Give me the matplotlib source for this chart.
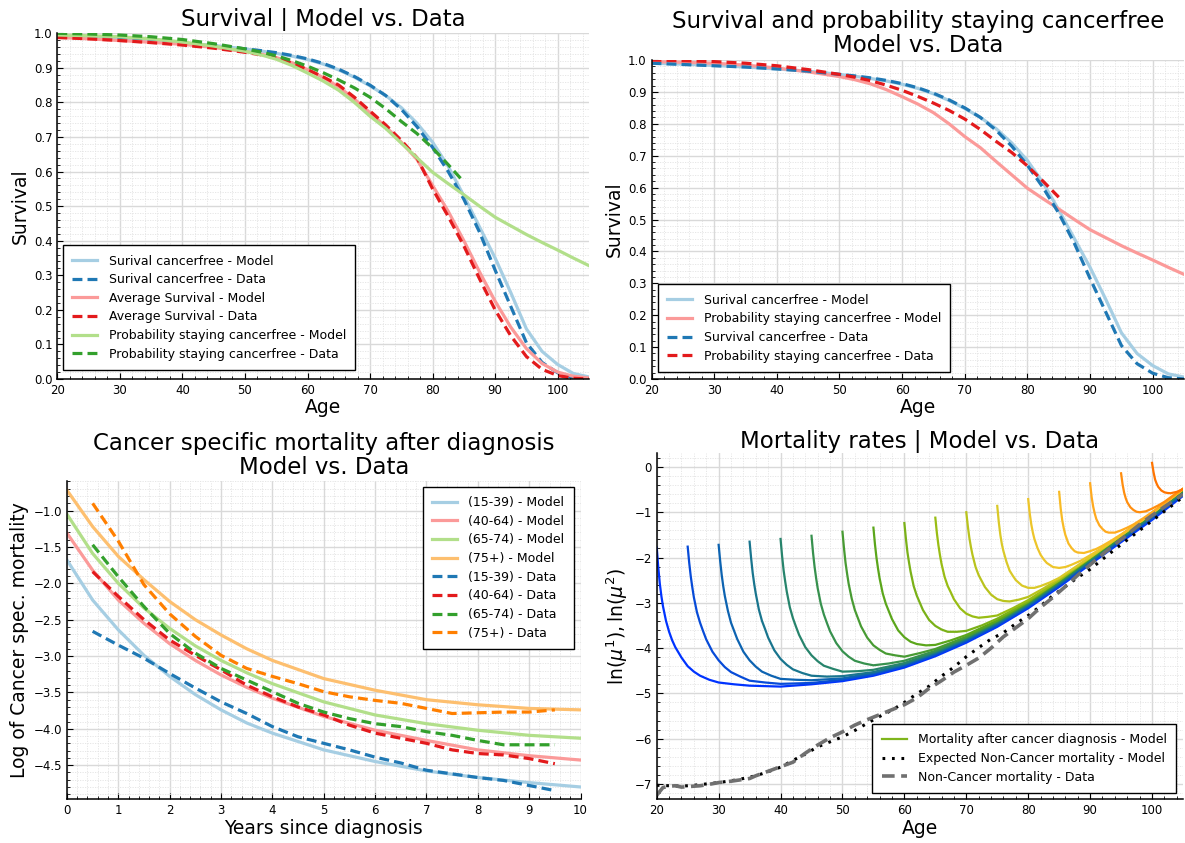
import matplotlib
matplotlib.use("Agg")
import matplotlib.pyplot as plt
import numpy as np
from matplotlib.ticker import AutoMinorLocator, MultipleLocator
from matplotlib.colors import LinearSegmentedColormap
from matplotlib.lines import Line2D

# ---------------- data ----------------
# survival panels (age grid)
surv_age = [20, 25, 30, 35, 40, 45, 50, 52.5, 55, 57.5, 60, 62.5, 65, 67.5, 70, 72.5, 75, 77.5,
            80, 82.5, 85, 87.5, 90, 92.5, 95, 97.5, 100, 102.5, 105]
cf_model = [0.990, 0.987, 0.983, 0.978, 0.972, 0.965, 0.955, 0.949, 0.942, 0.934, 0.924, 0.911,
            0.894, 0.873, 0.848, 0.820, 0.785, 0.740, 0.685, 0.615, 0.530, 0.440, 0.350, 0.250,
            0.145, 0.080, 0.042, 0.016, 0.006]
cf_data = [0.990, 0.986, 0.982, 0.978, 0.972, 0.965, 0.955, 0.950, 0.944, 0.936, 0.926, 0.913,
           0.896, 0.875, 0.850, 0.820, 0.780, 0.730, 0.670, 0.600, 0.520, 0.425, 0.315, 0.210,
           0.105, 0.048, 0.018, 0.004, 0.0]
avg_model = [0.988, 0.984, 0.979, 0.974, 0.968, 0.959, 0.947, 0.940, 0.930, 0.915, 0.895, 0.872,
             0.845, 0.810, 0.770, 0.730, 0.685, 0.635, 0.560, 0.485, 0.400, 0.310, 0.225, 0.150,
             0.088, 0.045, 0.020, 0.008, 0.003]
avg_data = [0.988, 0.984, 0.979, 0.973, 0.966, 0.957, 0.945, 0.938, 0.928, 0.914, 0.895, 0.874,
            0.850, 0.815, 0.775, 0.735, 0.690, 0.640, 0.550, 0.470, 0.385, 0.290, 0.200, 0.125,
            0.065, 0.028, 0.010, 0.002, 0.0]
stay_model = [0.995, 0.993, 0.990, 0.984, 0.975, 0.963, 0.948, 0.938, 0.925, 0.907, 0.885, 0.862,
              0.835, 0.800, 0.760, 0.725, 0.682, 0.640, 0.598, 0.565, 0.533, 0.500, 0.468, 0.443,
              0.418, 0.395, 0.373, 0.350, 0.328]
stay_data = [1.0, 0.998, 0.995, 0.990, 0.982, 0.970, 0.955, 0.946, 0.935, 0.921, 0.905, 0.886,
             0.865, 0.842, 0.815, 0.782, 0.745, 0.710, 0.668, 0.620, 0.570]

# cancer specific mortality after diagnosis
t_model = [0, 0.5, 1, 1.5, 2, 2.5, 3, 3.5, 4, 5, 6, 7, 8, 9, 10]
csm_model = {
    "(15-39)": [-1.68, -2.23, -2.64, -2.99, -3.28, -3.53, -3.74, -3.92, -4.06, -4.29, -4.45, -4.58, -4.67, -4.74, -4.80],
    "(40-64)": [-1.31, -1.82, -2.23, -2.55, -2.83, -3.06, -3.26, -3.43, -3.58, -3.83, -4.02, -4.16, -4.29, -4.37, -4.43],
    "(65-74)": [-1.05, -1.59, -2.00, -2.34, -2.62, -2.86, -3.06, -3.23, -3.38, -3.63, -3.81, -3.93, -4.02, -4.09, -4.13],
    "(75+)": [-0.72, -1.22, -1.63, -1.95, -2.25, -2.50, -2.71, -2.90, -3.06, -3.31, -3.47, -3.60, -3.67, -3.72, -3.74],
}
t_data = [0.5, 1, 1.5, 2, 2.5, 3, 3.5, 4, 4.5, 5, 5.5, 6, 6.5, 7, 7.5, 8, 8.5, 9, 9.5]
csm_data = {
    "(15-39)": [-2.66, -2.85, -3.03, -3.24, -3.44, -3.63, -3.79, -3.97, -4.11, -4.20, -4.29, -4.39, -4.47, -4.57, -4.62, -4.67, -4.71, -4.78, -4.85],
    "(40-64)": [-1.84, -2.18, -2.50, -2.78, -2.99, -3.19, -3.40, -3.56, -3.70, -3.81, -3.95, -4.06, -4.13, -4.20, -4.29, -4.34, -4.36, -4.41, -4.48],
    "(65-74)": [-1.47, -1.91, -2.32, -2.69, -2.96, -3.17, -3.33, -3.49, -3.65, -3.77, -3.86, -3.93, -3.97, -4.04, -4.09, -4.16, -4.22, -4.22, -4.22],
    "(75+)": [-0.90, -1.42, -2.02, -2.42, -2.73, -2.99, -3.17, -3.28, -3.38, -3.49, -3.56, -3.61, -3.65, -3.72, -3.79, -3.78, -3.77, -3.77, -3.74],
}

# mortality after diagnosis, one curve per age at diagnosis
dx_ages = [20, 25, 30, 35, 40, 45, 50, 55, 60, 65, 70, 75, 80, 85, 90, 95, 100]
years_after = [0, 0.25, 0.5, 0.75, 1, 1.5, 2, 2.5, 3, 4, 5, 6, 7, 8.5, 10, 12.5, 15, 20, 25,
               30, 35, 40, 45, 50, 55, 60, 65, 70, 75, 80, 85]
mort_dx = [
    [-1.78, -2.22, -2.58, -2.85, -3.07, -3.40, -3.64, -3.83, -3.98, -4.21, -4.40, -4.52, -4.61, -4.70, -4.76, -4.80, -4.83, -4.85, -4.80, -4.73, -4.61, -4.43, -4.18, -3.88, -3.53, -3.12, -2.65, -2.15, -1.66, -1.17, -0.64],
    [-1.76, -2.12, -2.42, -2.66, -2.88, -3.21, -3.44, -3.63, -3.81, -4.08, -4.27, -4.42, -4.53, -4.63, -4.72, -4.76, -4.79, -4.77, -4.70, -4.58, -4.40, -4.15, -3.85, -3.50, -3.09, -2.62, -2.12, -1.63, -1.14, -0.61],
    [-1.72, -2.08, -2.39, -2.64, -2.85, -3.18, -3.44, -3.62, -3.80, -4.08, -4.27, -4.41, -4.52, -4.61, -4.68, -4.70, -4.71, -4.67, -4.55, -4.37, -4.12, -3.82, -3.47, -3.06, -2.59, -2.09, -1.60, -1.11, -0.58],
    [-1.65, -2.02, -2.34, -2.59, -2.80, -3.15, -3.40, -3.58, -3.77, -4.05, -4.24, -4.37, -4.47, -4.55, -4.61, -4.63, -4.62, -4.53, -4.35, -4.10, -3.80, -3.45, -3.04, -2.57, -2.07, -1.58, -1.09, -0.56],
    [-1.59, -1.97, -2.29, -2.53, -2.75, -3.10, -3.34, -3.53, -3.71, -3.98, -4.16, -4.29, -4.39, -4.46, -4.52, -4.51, -4.48, -4.33, -4.08, -3.78, -3.43, -3.02, -2.55, -2.05, -1.56, -1.07, -0.54],
    [-1.52, -1.90, -2.21, -2.46, -2.68, -3.02, -3.26, -3.45, -3.63, -3.89, -4.07, -4.19, -4.28, -4.34, -4.38, -4.34, -4.28, -4.06, -3.76, -3.41, -3.00, -2.53, -2.03, -1.54, -1.05, -0.52],
    [-1.43, -1.80, -2.12, -2.36, -2.58, -2.91, -3.16, -3.34, -3.52, -3.77, -3.94, -4.04, -4.12, -4.16, -4.19, -4.11, -4.02, -3.75, -3.40, -2.99, -2.52, -2.02, -1.53, -1.04, -0.51],
    [-1.34, -1.71, -2.01, -2.25, -2.46, -2.79, -3.02, -3.19, -3.36, -3.61, -3.76, -3.86, -3.91, -3.94, -3.93, -3.83, -3.71, -3.39, -2.98, -2.51, -2.01, -1.52, -1.03, -0.50],
    [-1.24, -1.59, -1.89, -2.11, -2.31, -2.63, -2.84, -3.00, -3.16, -3.38, -3.51, -3.59, -3.64, -3.64, -3.62, -3.50, -3.35, -2.97, -2.50, -2.00, -1.51, -1.02, -0.49],
    [-1.12, -1.46, -1.73, -1.95, -2.14, -2.43, -2.63, -2.77, -2.92, -3.12, -3.24, -3.30, -3.33, -3.31, -3.28, -3.12, -2.94, -2.50, -2.00, -1.51, -1.02, -0.49],
    [-1.00, -1.31, -1.57, -1.77, -1.94, -2.21, -2.39, -2.52, -2.65, -2.82, -2.92, -2.96, -2.97, -2.93, -2.87, -2.68, -2.47, -2.00, -1.51, -1.02, -0.49],
    [-0.86, -1.22, -1.50, -1.71, -1.86, -2.10, -2.29, -2.40, -2.50, -2.62, -2.67, -2.67, -2.63, -2.55, -2.45, -2.22, -1.99, -1.51, -1.02, -0.49],
    [-0.71, -1.03, -1.27, -1.45, -1.59, -1.79, -1.94, -2.04, -2.12, -2.21, -2.23, -2.21, -2.16, -2.07, -1.95, -1.74, -1.50, -1.02, -0.49],
    [-0.55, -0.92, -1.18, -1.36, -1.50, -1.69, -1.79, -1.86, -1.89, -1.90, -1.86, -1.81, -1.74, -1.62, -1.49, -1.26, -1.02, -0.49],
    [-0.36, -0.67, -0.88, -1.03, -1.15, -1.29, -1.37, -1.43, -1.45, -1.45, -1.40, -1.34, -1.27, -1.14, -1.00, -0.75, -0.49],
    [-0.14, -0.39, -0.57, -0.69, -0.78, -0.89, -0.95, -0.99, -1.00, -0.98, -0.92, -0.85, -0.77, -0.62, -0.48],
    [0.09, -0.12, -0.28, -0.37, -0.44, -0.52, -0.56, -0.575, -0.58, -0.55, -0.49],
]

nc_age = [20, 21, 22, 23, 24, 25, 26, 27, 28, 30, 32, 34, 35, 36, 38, 40, 42, 44, 46, 48, 50,
          52, 54, 56, 58, 60, 62, 64, 66, 68, 70, 72, 74, 76, 78, 80, 82, 84, 86, 88, 90, 92,
          94, 96, 98, 100, 102, 104, 105]
nc_data = [-7.25, -7.08, -7.05, -7.04, -7.07, -7.06, -7.05, -7.04, -7.02, -6.97, -6.94, -6.90,
           -6.88, -6.82, -6.72, -6.62, -6.52, -6.32, -6.14, -5.98, -5.85, -5.70, -5.58, -5.47,
           -5.36, -5.25, -5.10, -4.89, -4.72, -4.53, -4.38, -4.22, -4.00, -3.75, -3.55, -3.35,
           -3.10, -2.88, -2.64, -2.39, -2.16, -1.93, -1.71, -1.49, -1.27, -1.07, -0.88, -0.70, -0.60]
exp_age = [20, 22, 24, 26, 28, 30, 32, 34, 36, 38, 40, 42, 44, 46, 48, 50, 52, 54, 56, 58, 60,
           62, 64, 66, 68, 70, 72, 74, 76, 78, 80, 82, 84, 86, 88, 90, 92, 94, 96, 98, 100, 102,
           104, 105]
exp_model = [-7.03, -7.04, -7.05, -7.03, -7.00, -6.97, -6.93, -6.88, -6.82, -6.73, -6.63, -6.48,
             -6.34, -6.18, -6.07, -5.96, -5.82, -5.66, -5.51, -5.37, -5.20, -5.01, -4.84, -4.62,
             -4.42, -4.19, -3.99, -3.80, -3.66, -3.46, -3.28, -3.07, -2.84, -2.64, -2.44, -2.26,
             -2.04, -1.82, -1.61, -1.40, -1.19, -0.98, -0.77, -0.66]

# ---------------- style ----------------
light = ['#a6cee3', '#fb9a99', '#b2df8a', '#fdbf6f']
dark = ['#1f78b4', '#e31a1c', '#33a02c', '#ff7f00']
LW = 2.3
DASH = (3.1, 1.6)
leg_kw = dict(fancybox=False, edgecolor='black', framealpha=1, fontsize=9, borderaxespad=0,
              borderpad=0.75, labelspacing=0.45, handlelength=2.0, handletextpad=0.9)
TITLE_FS = 16.5
LABEL_FS = 13.5


def style(ax, xminor=5, yminor=5):
    for s in ['top', 'right']:
        ax.spines[s].set_visible(False)
    for s in ['left', 'bottom']:
        ax.spines[s].set_linewidth(1.1)
    ax.xaxis.set_minor_locator(AutoMinorLocator(xminor))
    ax.yaxis.set_minor_locator(AutoMinorLocator(yminor))
    ax.grid(True, which='major', color='#d9d9d9', lw=1.0)
    ax.grid(True, which='minor', color='#e3e3e3', lw=0.6, ls=(0, (1.5, 1.5)))
    ax.set_axisbelow(True)
    ax.tick_params(which='both', direction='in', labelsize=8.5, top=False, right=False)
    ax.tick_params(which='major', length=4, width=0.8)
    ax.tick_params(which='minor', length=2, width=0.6)


fig = plt.figure(figsize=(11.85, 8.43), dpi=100)

# ---- top left ----
ax1 = fig.add_axes([0.0484, 0.5504, 0.4486, 0.4101])
ax1.plot(surv_age, cf_model, color=light[0], lw=LW, label="Surival cancerfree - Model")
ax1.plot(surv_age, cf_data, color=dark[0], lw=LW, dashes=DASH, label="Surival cancerfree - Data")
ax1.plot(surv_age, avg_model, color=light[1], lw=LW, label="Average Survival - Model")
ax1.plot(surv_age, avg_data, color=dark[1], lw=LW, dashes=DASH, label="Average Survival - Data")
ax1.plot(surv_age, stay_model, color=light[2], lw=LW, label="Probability staying cancerfree - Model")
ax1.plot(surv_age[:len(stay_data)], stay_data, color=dark[2], lw=LW, dashes=DASH,
         label="Probability staying cancerfree - Data")
ax1.set_xlim(20, 105)
ax1.set_ylim(0, 1)
ax1.yaxis.set_major_locator(MultipleLocator(0.1))
style(ax1)
ax1.set_title("Survival | Model vs. Data", fontsize=TITLE_FS, pad=5)
ax1.set_xlabel("Age", fontsize=LABEL_FS, labelpad=1)
ax1.set_ylabel("Survival", fontsize=LABEL_FS, labelpad=3)
l = ax1.legend(loc='lower left', bbox_to_anchor=(0.0105, 0.026), **leg_kw)
l.get_frame().set_linewidth(1.0)

# ---- top right ----
ax2 = fig.add_axes([0.5498, 0.5504, 0.4494, 0.3784])
ax2.plot(surv_age, cf_model, color=light[0], lw=LW, label="Surival cancerfree - Model")
ax2.plot(surv_age, stay_model, color=light[1], lw=LW, label="Probability staying cancerfree - Model")
ax2.plot(surv_age, cf_data, color=dark[0], lw=LW, dashes=DASH, label="Survival cancerfree - Data")
ax2.plot(surv_age[:len(stay_data)], stay_data, color=dark[1], lw=LW, dashes=DASH,
         label="Probability staying cancerfree - Data")
ax2.set_xlim(20, 105)
ax2.set_ylim(0, 1)
ax2.yaxis.set_major_locator(MultipleLocator(0.1))
style(ax2)
ax2.set_title("Survival and probability staying cancerfree\nModel vs. Data", fontsize=TITLE_FS,
              pad=6, linespacing=1.05)
ax2.set_xlabel("Age", fontsize=LABEL_FS, labelpad=1)
ax2.set_ylabel("Survival", fontsize=LABEL_FS, labelpad=3)
l = ax2.legend(loc='lower left', bbox_to_anchor=(0.012, 0.022), **leg_kw)
l.get_frame().set_linewidth(1.0)

# ---- bottom left ----
ax3 = fig.add_axes([0.0565, 0.0518, 0.4334, 0.3779])
for i, grp in enumerate(csm_model):
    ax3.plot(t_model, csm_model[grp], color=light[i], lw=LW, label=grp + " - Model")
for i, grp in enumerate(csm_data):
    ax3.plot(t_data, csm_data[grp], color=dark[i], lw=LW, dashes=DASH, label=grp + " - Data")
ax3.set_xlim(0, 10)
ax3.set_ylim(-4.97, -0.59)
ax3.xaxis.set_major_locator(MultipleLocator(1))
ax3.yaxis.set_major_locator(MultipleLocator(0.5))
style(ax3)
ax3.set_title("Cancer specific mortality after diagnosis\nModel vs. Data", fontsize=TITLE_FS,
              pad=5, linespacing=1.05)
ax3.set_xlabel("Years since diagnosis", fontsize=LABEL_FS, labelpad=1)
ax3.set_ylabel("Log of Cancer spec. mortality", fontsize=LABEL_FS, labelpad=3)
l = ax3.legend(loc='upper right', bbox_to_anchor=(0.987, 0.981), **leg_kw)
l.get_frame().set_linewidth(1.0)

# ---- bottom right ----
ax4 = fig.add_axes([0.5542, 0.0518, 0.4441, 0.4104])
cmap = LinearSegmentedColormap.from_list(
    "dx", ['#0033ff', '#0f6aa6', '#2f8c5a', '#56a41c', '#9cbe14', '#e6cb2c', '#ffb424', '#ff7400'])
for k, (a0, vals) in enumerate(zip(dx_ages, mort_dx)):
    ages = a0 + np.array(years_after[:len(vals)])
    ax4.plot(ages, vals, color=cmap(k / (len(dx_ages) - 1)), lw=1.6)
ax4.plot(exp_age, exp_model, color='black', lw=2.2, dashes=(0.9, 2.2), dash_capstyle='butt')
ax4.plot(nc_age, nc_data, color='#707070', lw=2.6, dashes=(3.5, 1.8))
ax4.set_xlim(20, 105)
ax4.set_ylim(-7.34, 0.30)
ax4.yaxis.set_major_locator(MultipleLocator(1))
style(ax4)
ax4.set_title("Mortality rates | Model vs. Data", fontsize=TITLE_FS, pad=4)
ax4.set_xlabel("Age", fontsize=LABEL_FS, labelpad=1)
ax4.set_ylabel(r"$\ln(\mu^1), \ln(\mu^2)$", fontsize=LABEL_FS, labelpad=3)
handles = [Line2D([], [], color='#7fb51c', lw=1.6),
           Line2D([], [], color='black', lw=2.2, dashes=(0.9, 2.2)),
           Line2D([], [], color='#707070', lw=2.6, dashes=(3.5, 1.8))]
labels = ["Mortality after cancer diagnosis - Model",
          "Expected Non-Cancer mortality - Model",
          "Non-Cancer mortality - Data"]
l = ax4.legend(handles, labels, loc='lower right', bbox_to_anchor=(0.987, 0.018), **leg_kw)
l.get_frame().set_linewidth(1.0)

fig.savefig("out.png", dpi=100)
